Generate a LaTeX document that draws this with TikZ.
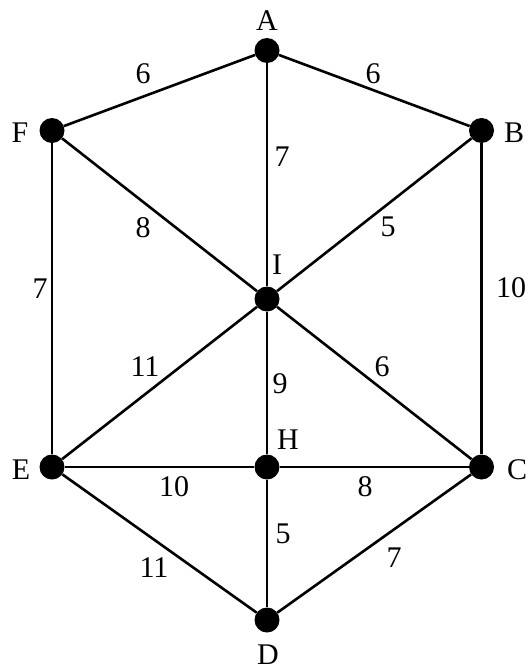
\documentclass[tikz,border=0pt]{standalone}
\usepackage{fontspec}
\setmainfont{Liberation Serif}
\usetikzlibrary{positioning}

\begin{document}
\begin{tikzpicture}[
x=1pt,y=-1pt,
vert/.style={circle,fill=black,inner sep=0pt,minimum size=25pt},
lbl/.style={inner sep=0pt,font=\fontsize{30}{34}\selectfont},
wt/.style={inner sep=0pt,font=\fontsize{30}{34}\selectfont},
edge/.style={line width=2.6pt}
]
\useasboundingbox (0,0) rectangle (528,664);
% vertices
\node[vert] (A) at (267,50.5) {};
\node[vert] (F) at (52,130.5) {};
\node[vert] (B) at (481.5,130.5) {};
\node[vert] (I) at (267,299) {};
\node[vert] (E) at (52,467) {};
\node[vert] (H) at (267,467) {};
\node[vert] (C) at (481.5,467) {};
\node[vert] (D) at (267,620) {};
% vertex names
\node[lbl] (lA) at (267,21) {A};
\node[lbl] (lF) at (20,133) {F};
\node[lbl] (lB) at (514,133) {B};
\node[lbl] (lI) at (277,265) {I};
\node[lbl] (lH) at (288,440) {H};
\node[lbl] (lE) at (21,470) {E};
\node[lbl] (lC) at (517,470) {C};
\node[lbl] (lD) at (268,655) {D};
% edges
\draw[edge] (A) -- (F);
\draw[edge] (A) -- (B);
\draw[edge] (A) -- (I);
\draw[edge] (F) -- (I);
\draw[edge] (B) -- (I);
\draw[edge] (F) -- (E);
\draw[edge] (B) -- (C);
\draw[edge] (E) -- (I);
\draw[edge] (I) -- (H);
\draw[edge] (I) -- (C);
\draw[edge] (E) -- (H);
\draw[edge] (H) -- (C);
\draw[edge] (H) -- (D);
\draw[edge] (E) -- (D);
\draw[edge] (C) -- (D);
% weights
\node[wt] (wAF) at (143,73.5) {6};
\node[wt] (wAB) at (373,73.5) {6};
\node[wt] (wAI) at (282,156.5) {7};
\node[wt] (wFI) at (143,227.5) {8};
\node[wt] (wBI) at (388,227) {5};
\node[wt] (wFE) at (40,289) {7};
\node[wt] (wBC) at (511,288) {10};
\node[wt] (wEI) at (145,366.5) {11};
\node[wt] (wIH) at (280,383.5) {9};
\node[wt] (wIC) at (382,367) {6};
\node[wt] (wEH) at (174,487) {10};
\node[wt] (wHC) at (365,487) {8};
\node[wt] (wHD) at (283,533.5) {5};
\node[wt] (wED) at (154,568) {11};
\node[wt] (wCD) at (394,558) {7};
\end{tikzpicture}
\end{document}
